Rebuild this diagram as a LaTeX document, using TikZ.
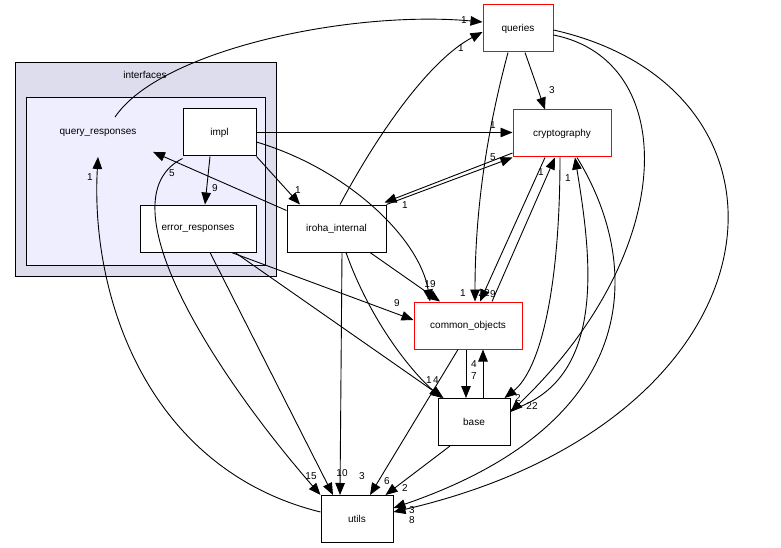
\documentclass[tikz,border=0pt]{standalone}
\usepackage{fontspec}
\setmainfont{Liberation Sans}
\usetikzlibrary{arrows.meta,calc}
\definecolor{clusterout}{HTML}{DDDDEE}
\definecolor{clusterin}{HTML}{EEEEFF}
\tikzset{
  dir/.style={draw, line width=1pt, fill=white, minimum height=47pt, inner sep=2pt, font=\fontsize{10}{12}\selectfont},
  reddir/.style={dir, draw=red},
  dep/.style={draw, line width=0.9pt, -{Triangle[length=12pt,width=9.5pt]}},
  lbl/.style={font=\fontsize{10}{12}\selectfont, inner sep=0pt}
}
\begin{document}
\begin{tikzpicture}[x=1pt,y=-1pt]
  \useasboundingbox (0,0) rectangle (781,548);
  % clusters
  \draw[line width=1pt, fill=clusterout] (15,63) rectangle (276,276);
  \node[lbl] at (145,75) {interfaces};
  \draw[line width=1pt, fill=clusterin] (26,98) rectangle (265,265);

  % directories
  \node[lbl] (qresp) at (98,133) {query\_responses};
  \node[dir, minimum width=73pt] (impl) at (219.5,132.5) {impl};
  \node[dir, minimum width=116pt] (errresp) at (198,228.5) {error\_responses};
  \node[dir, minimum width=99pt] (iroha) at (336.5,228.5) {iroha\_internal};
  \node[reddir, minimum width=70pt] (queries) at (518,28.5) {queries};
  \node[reddir, minimum width=98pt] (crypto) at (562,133.5) {cryptography};
  \node[reddir, minimum width=108pt] (common) at (468,325.5) {common\_objects};
  \node[dir, minimum width=72pt] (base) at (474,422) {base};
  \node[dir, minimum width=72pt] (utils) at (357,519) {utils};

  % dependencies
  \draw[dep] ($(qresp.north)+(17,-12)$) .. controls (160,50) and (350,10) .. (queries.west |- 0,22);
  \node[lbl] at (464,20) {1};
  \draw[dep] (impl.east) -- (crypto.west |- impl.east);
  \node[lbl] at (493,125) {1};
  \draw[dep] (impl.south -| 210,0) -- (errresp.north -| 205,0);
  \node[lbl] at (215,188) {9};
  \draw[dep] (impl.south east) -- (iroha.north -| 300,0);
  \node[lbl] at (298,190) {1};
  \draw[dep] (impl.east |- 0,142) .. controls (350,170) and (420,240) .. (common.north -| 430,0);
  \node[lbl] at (463,293) {1};
  \draw[dep] ($(impl.south west)+(0,2)$) .. controls (100,200) and (220,380) .. (utils.north west);
  \node[lbl] at (311,476) {15};
  \draw[dep] (iroha.north -| 340,0) .. controls (380,130) and (430,60) .. (queries.west |- 0,32);
  \node[lbl] at (461,48) {1};
  \draw[dep] (iroha.north east) -- (crypto.south west);
  \node[lbl] at (493,157) {5};
  \draw[dep] (crypto.west |- 0,153) -- ($(iroha.north east)+(-2,-2)$);
  \node[lbl] at (405,205) {1};
  \draw[dep] ($(iroha.north west)+(0,6)$) -- ($(qresp.south)+(55,15)$);
  \node[lbl] at (172,173) {5};
  \draw[dep] (iroha.south -| 370,0) -- (common.north -| 440,0);
  \node[lbl] at (430,284) {19};
  \draw[dep] (iroha.south -| 346,0) .. controls (370,320) and (410,370) .. ($(base.north west)+(4,0)$);
  \node[lbl] at (429,380) {1};
  \draw[dep] (iroha.south -| 342,0) -- (utils.north -| 340,0);
  \node[lbl] at (362,476) {3};
  \draw[dep] ($(errresp.south east)+(-25,0)$) -- (common.west |- 0,320);
  \node[lbl] at (397,303) {9};
  \draw[dep] (errresp.south -| 210,0) -- (utils.north -| 333,0);
  \node[lbl] at (342,473) {10};
  \draw[dep] (errresp.south -| 235,0) -- ($(base.north west)+(6,0)$);
  \node[lbl] at (436,380) {4};
  \draw[dep] (queries.south -| 525,0) -- (crypto.north -| 545,0);
  \node[lbl] at (552,90) {3};
  \draw[dep] (queries.south -| 508,0) .. controls (490,120) and (475,200) .. (common.north -| 475,0);
  \node[lbl] at (484,293) {22};
  \draw[dep] (queries.east |- 0,35) .. controls (680,60) and (680,250) .. (base.east |- 0,412);
  \node[lbl] at (532,406) {22};
  \draw[dep] (queries.east |- 0,30) .. controls (820,90) and (790,420) .. (utils.east |- 0,512);
  \node[lbl] at (412,510) {3};
  \draw[dep] (crypto.south -| 545,0) -- (common.north -| 480,0);
  \node[lbl] at (493,294) {9};
  \draw[dep] (common.north -| 492,0) -- (crypto.south -| 555,0);
  \node[lbl] at (541,172) {1};
  \draw[dep] (crypto.south -| 560,0) .. controls (560,290) and (540,370) .. ($(base.north east)+(-6,0)$);
  \node[lbl] at (518,398) {2};
  \draw[dep] ($(base.north east)+(0,12)$) .. controls (610,380) and (590,250) .. (crypto.south -| 575,0);
  \node[lbl] at (568,178) {1};
  \draw[dep] (crypto.south -| 577,0) .. controls (640,260) and (650,420) .. (utils.east |- 0,508);
  \node[lbl] at (412,520) {8};
  \draw[dep] (common.south -| 466,0) -- (base.north -| 466,0);
  \node[lbl] at (474,376) {7};
  \draw[dep] (base.north -| 483,0) -- (common.south -| 483,0);
  \node[lbl] at (474,364) {4};
  \draw[dep] (common.south -| 458,0) -- (utils.north -| 370,0);
  \node[lbl] at (387,481) {6};
  \draw[dep] (base.south -| 450,0) -- ($(utils.north east)+(-8,0)$);
  \node[lbl] at (405,488) {2};
  \draw[dep] (utils.west |- 0,512) .. controls (150,470) and (90,300) .. ($(qresp.south)+(0,20)$);
  \node[lbl] at (90,177) {1};
\end{tikzpicture}
\end{document}
